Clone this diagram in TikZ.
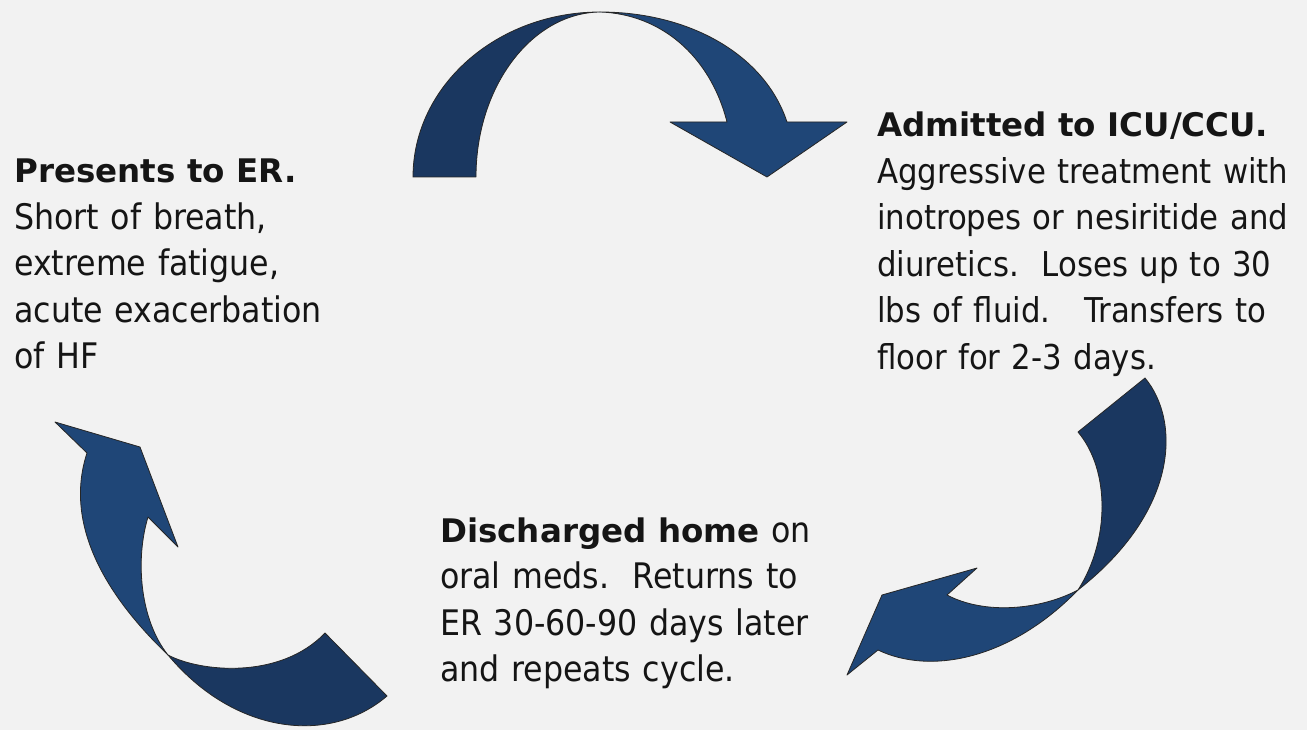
\documentclass[tikz,border=0pt]{standalone}
\usepackage{fontspec}
\setmainfont{DejaVu Sans Condensed}
\newfontfamily\leadfont{DejaVu Sans}
\definecolor{page}{HTML}{F2F2F2}
\definecolor{ink}{HTML}{151515}
\definecolor{navy}{HTML}{1F4677}
\definecolor{deepnavy}{HTML}{1A3760}
\newcommand{\lead}[1]{{\leadfont\bfseries\fontsize{32.5}{46.5}\selectfont #1}}

\begin{document}
\begin{tikzpicture}[x=1pt,y=-1pt,
  txt/.style={anchor=base west,inner sep=0pt,align=left,text=ink,font=\fontsize{35.2}{46.5}\selectfont},
  backband/.style={fill=deepnavy,draw=black!85,line width=0.8pt,line join=round},
  frontband/.style={fill=navy,draw=black!85,line width=0.8pt,line join=round}]
\useasboundingbox (0,0) rectangle (1307,730);
\fill[page] (0,0) rectangle (1307,730);
\path[backband] (413,177) .. controls (413,86) and (497,12) .. (600,12) .. controls (532,13) and (476,86) .. (476,177) -- cycle;
\path[frontband] (600,12) .. controls (690,12) and (765,55) .. (787,122) -- (847,122) -- (767,177) -- (670,122) -- (727,122) .. controls (710,55) and (660,14) .. (600,12) -- cycle;
\path[backband] (1145,378) .. controls (1180,420) and (1180,510) .. (1078,590) .. controls (1110,540) and (1110,470) .. (1078,432) -- cycle;
\path[frontband] (1078,590) .. controls (1040,610) and (985,615) .. (947,595) -- (977,568) -- (882,595) -- (847,675) -- (878,650) .. controls (930,675) and (1010,660) .. (1078,590) -- cycle;
\path[frontband] (168,655) .. controls (100,590) and (65,520) .. (87,453) -- (55,422) -- (140,447) -- (178,547) -- (148,517) .. controls (135,560) and (140,620) .. (168,655) -- cycle;
\path[backband] (168,655) .. controls (200,672) and (280,680) .. (325,633) -- (387,696) .. controls (330,745) and (235,735) .. (168,655) -- cycle;
\node[txt,text width=330pt] (er) at (14,183) {\lead{Presents to ER.}\\Short of breath,\\extreme fatigue,\\acute exacerbation\\of HF};
\node[txt,text width=425pt,font=\fontsize{34.2}{46.5}\selectfont] (icu) at (877,137) {\lead{Admitted to ICU/CCU.}\\Aggressive treatment with\\inotropes or nesiritide and\\diuretics.\ \ Loses up to 30\\lbs of fluid.\ \ \ Transfers to\\floor for 2-3 days.};
\node[txt,text width=400pt] (home) at (440,542) {\lead{Discharged home} on\\oral meds.\ \ Returns to\\ER 30-60-90 days later\\and repeats cycle.};
\end{tikzpicture}
\end{document}
